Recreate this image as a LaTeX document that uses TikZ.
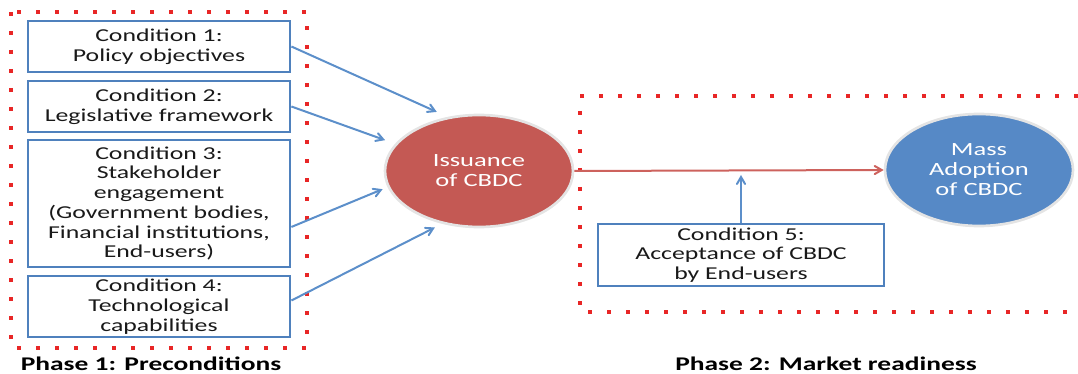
\documentclass[tikz,border=0pt]{standalone}
\usepackage{fontspec}
\setmainfont{Carlito}[FakeStretch=1.42]
\usetikzlibrary{shapes.geometric, arrows, positioning}
\definecolor{condblue}{RGB}{79,129,189}
\definecolor{arrowblue}{RGB}{92,143,202}
\definecolor{issuered}{RGB}{196,89,84}
\definecolor{adoptblue}{RGB}{86,137,198}
\definecolor{dotred}{RGB}{232,38,38}
\definecolor{flowred}{RGB}{205,98,93}
\definecolor{rimgrey}{RGB}{228,228,228}
\definecolor{textgrey}{RGB}{25,25,25}

\tikzset{
  condbox/.style={rectangle, draw=condblue, line width=1.6pt, fill=white, align=center,
    text=textgrey, font=\fontsize{13.6}{14.8}\selectfont, inner sep=0pt},
  bubble/.style={ellipse, draw=rimgrey, line width=2pt, align=center, text=white,
    font=\fontsize{14}{15}\selectfont, minimum width=141pt, minimum height=84pt, inner sep=0pt},
  phaseframe/.style={draw=dotred, line width=3pt, dash pattern=on 3pt off 11.25pt},
  feed/.style={-angle 60, draw=arrowblue, line width=1.5pt},
  phaselabel/.style={font=\bfseries\fontsize{14.5}{15}\selectfont, anchor=base}
}

\begin{document}
\begin{tikzpicture}[x=0.75pt, y=-0.75pt]
\useasboundingbox (0,0) rectangle (1078,374);

% Dotted phase frames
\draw[phaseframe] (11,12) rectangle (307,348);
\draw[phaseframe] (1078,96) -| (580,312) -- (1078,312);

% Preconditions
\node[condbox, minimum width=197pt, minimum height=38pt] (cond1) at (159,46.5) {Condition 1:\\Policy objectives};
\node[condbox, minimum width=197pt, minimum height=38pt] (cond2) at (159,106.5) {Condition 2:\\Legislative framework};
\node[condbox, minimum width=197pt, minimum height=95pt] (cond3) at (159,203.5) {Condition 3:\\Stakeholder\\engagement\\(Government bodies,\\Financial institutions,\\End-users)};
\node[condbox, minimum width=197pt, minimum height=46pt] (cond4) at (159,306.5) {Condition 4:\\Technological\\capabilities};
\node[condbox, minimum width=215pt, minimum height=47pt] (cond5) at (741,255) {Condition 5:\\Acceptance of CBDC\\by End-users};

% Outcomes
\node[bubble, fill=issuered] (issue) at (479,171) {Issuance\\of CBDC};
\node[bubble, fill=adoptblue] (adopt) at (979,170) {Mass\\Adoption\\of CBDC};

% Phase labels
\node[phaselabel] (phase1) at (151,370) {Phase 1: Preconditions};
\node[phaselabel] (phase2) at (826,370) {Phase 2: Market readiness};

% Connectors
\draw[feed, shorten >=9pt] (cond1.east) -- (issue.120);
\draw[feed, shorten >=8pt] (cond2.east) -- (issue.162);
\draw[feed, shorten >=4pt] ([yshift=-17.6pt]cond3.east) -- (issue.190);
\draw[feed, shorten >=6pt] ([yshift=4.5pt]cond4.east) -- (issue.235);
\draw[-angle 60, draw=flowred, line width=1.5pt] (issue.east) -- (adopt.west);
\coordinate (meet) at (cond5.north |- issue.east);
\draw[feed, shorten >=3pt] (cond5.north) -- (meet);
\end{tikzpicture}
\end{document}
